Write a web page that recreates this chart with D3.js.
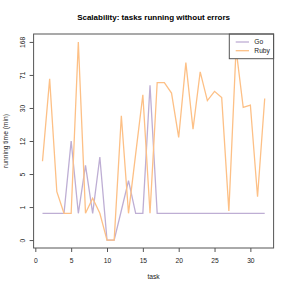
<!DOCTYPE html>
<html>
<head>
<meta charset="utf-8">
<script src="https://cdn.jsdelivr.net/npm/d3@7"></script>
<style>
  body { margin: 0; background: #fff; }
  svg text { font-family: "Liberation Sans", Arial, sans-serif; fill: #222; }
</style>
</head>
<body>
<svg id="chart" width="291" height="291"></svg>
<script>
// running time (minutes) per task
var tasks = d3.range(1, 33);
var goMinutes = [1, 1, 1, 1, 12, 1, 5.9, 1, 7.6, 0, 0, 1.15, 3.65, 1, 1, 54,
                 1, 1, 1, 1, 1, 1, 1, 1, 1, 1, 1, 1, 1, 1, 1, 1];
var rubyMinutes = [6.7, 64, 2.5, 1, 1, 168, 1, 1.95, 1, 0, 0, 24, 1, 8.3, 42, 1,
                   58, 58, 44, 13.3, 98, 16.7, 77, 36, 46, 39, 1.13, 140, 30, 32, 2.07, 38];
var seriesNames = ['Go', 'Ruby'];
var seriesColors = ['#BEAED4', '#FDC086'];
var xTickLabels = [0, 5, 10, 15, 20, 25, 30];
var yTickLabels = [0, 1, 5, 12, 30, 71, 168];

var svg = d3.select('#chart');
var plotLeft = 33.6, plotRight = 273.6, plotTop = 34, plotBottom = 248;
var frameColor = '#555';

// R style 4% padding on both axes
var xPad = 0.04 * (d3.max(tasks) - d3.min(tasks));
var xScale = d3.scaleLinear()
    .domain([d3.min(tasks) - xPad, d3.max(tasks) + xPad])
    .range([plotLeft, plotRight]);

// log(1 + minutes) axis
var yMax = Math.log1p(d3.max(rubyMinutes.concat(goMinutes)));
var yScale = d3.scaleSymlog().constant(1)
    .domain([-Math.expm1(0.04 * yMax), Math.expm1(1.04 * yMax)])
    .range([plotBottom, plotTop]);
// ticks evenly spaced in transformed space
var yTickVals = yTickLabels.map(function (d, i) { return Math.expm1(i * yMax / (yTickLabels.length - 1)); });

var line = d3.line()
    .x(function (d) { return xScale(d[0]); })
    .y(function (d) { return yScale(d[1]); });

[goMinutes, rubyMinutes].forEach(function (vals, i) {
    svg.append('path')
        .datum(tasks.map(function (t, j) { return [t, vals[j]]; }))
        .attr('d', line)
        .attr('fill', 'none')
        .attr('stroke', seriesColors[i])
        .attr('stroke-width', 1.3);
});

// axes
var xAxis = svg.append('g')
    .attr('transform', 'translate(0,' + plotBottom + ')')
    .call(d3.axisBottom(xScale).tickValues(xTickLabels).tickSize(4).tickSizeOuter(0));
xAxis.selectAll('text').attr('y', 15.3).attr('dy', null).style('font-size', '6.7px');

var yAxis = svg.append('g')
    .attr('transform', 'translate(' + plotLeft + ',0)')
    .call(d3.axisLeft(yScale).tickValues(yTickVals).tickSize(4).tickSizeOuter(0)
        .tickFormat(function (d, i) { return yTickLabels[i]; }));
yAxis.selectAll('text')
    .attr('transform', 'rotate(-90)')
    .attr('x', 0).attr('y', -9.1).attr('dy', null)
    .attr('text-anchor', 'middle')
    .style('font-size', '6.7px');
svg.selectAll('.domain').remove();
svg.selectAll('.tick line').attr('stroke', frameColor);

// legend
var legend = svg.append('g');
legend.append('rect')
    .attr('x', 229.3).attr('y', plotTop).attr('width', plotRight - 229.3).attr('height', 24.7)
    .attr('fill', '#fff').attr('stroke', frameColor).attr('stroke-width', 1);
seriesNames.forEach(function (name, i) {
    var ly = 42 + i * 8.7;
    legend.append('line')
        .attr('x1', 235.7).attr('x2', 249).attr('y1', ly).attr('y2', ly)
        .attr('stroke', seriesColors[i]).attr('stroke-width', 1.3);
    legend.append('text')
        .attr('x', 254.3).attr('y', ly + 2.4)
        .style('font-size', '6.7px')
        .text(name);
});

// plot box
svg.append('rect')
    .attr('x', plotLeft).attr('y', plotTop).attr('width', plotRight - plotLeft).attr('height', plotBottom - plotTop)
    .attr('fill', 'none').attr('stroke', frameColor).attr('stroke-width', 1);

// titles
svg.append('text')
    .attr('x', (plotLeft + plotRight) / 2).attr('y', 19.8)
    .attr('text-anchor', 'middle')
    .style('font-size', '8px').style('font-weight', 'bold')
    .style('fill', '#000')
    .text('Scalability: tasks running without errors');
svg.append('text')
    .attr('x', (plotLeft + plotRight) / 2).attr('y', 279.3)
    .attr('text-anchor', 'middle')
    .style('font-size', '6.7px')
    .text('task');
svg.append('text')
    .attr('transform', 'translate(8,' + (plotTop + plotBottom) / 2 + ') rotate(-90)')
    .attr('text-anchor', 'middle')
    .style('font-size', '6.7px')
    .text('running time (min)');
</script>
</body>
</html>
